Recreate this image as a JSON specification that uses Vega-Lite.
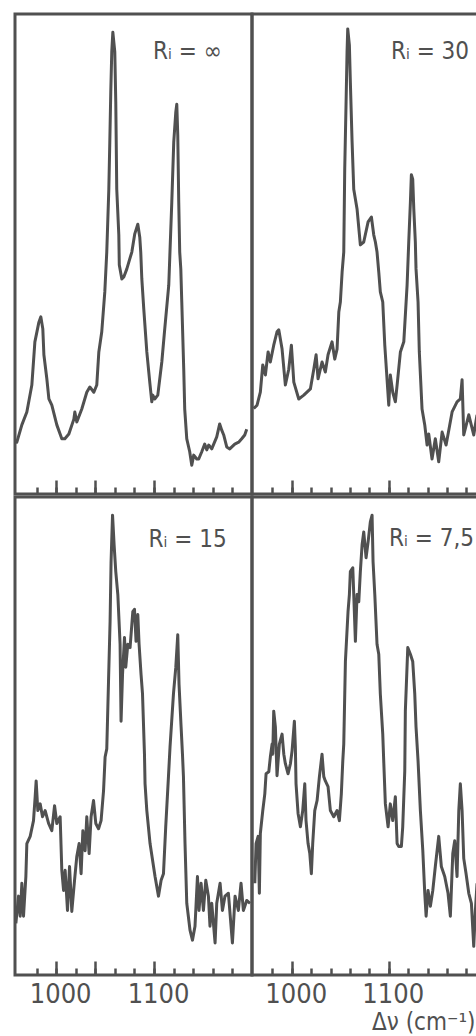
{
  "$schema": "https://vega.github.io/schema/vega-lite/v6.json",
  "background": "white",
  "padding": {"left": 13, "top": 12, "right": 0, "bottom": 0},
  "config": {
    "view": {"stroke": "#505050", "strokeWidth": 3},
    "font": "DejaVu Sans Condensed, DejaVu Sans, sans-serif"
  },
  "datasets": {
    "inf": [
      {"wn":957.9,"int":11.2},{"wn":959.9,"int":10.8},{"wn":965.0,"int":14.4},{"wn":970.1,"int":17.1},{"wn":975.2,"int":22.7},{"wn":978.3,"int":31.7},{"wn":982.4,"int":35.8},{"wn":984.4,"int":36.9},{"wn":986.4,"int":34.4},{"wn":987.5,"int":29.0},{"wn":990.5,"int":24.0},{"wn":992.6,"int":19.8},{"wn":995.6,"int":18.5},{"wn":1000.7,"int":14.4},{"wn":1005.8,"int":11.5},{"wn":1008.9,"int":11.5},{"wn":1013.0,"int":12.5},{"wn":1018.1,"int":15.6},{"wn":1019.1,"int":17.1},{"wn":1021.1,"int":15.0},{"wn":1026.2,"int":17.7},{"wn":1031.3,"int":21.2},{"wn":1034.4,"int":22.3},{"wn":1038.5,"int":21.2},{"wn":1041.5,"int":22.7},{"wn":1043.6,"int":29.6},{"wn":1046.6,"int":33.8},{"wn":1049.7,"int":42.1},{"wn":1051.7,"int":50.4},{"wn":1053.8,"int":63.5},{"wn":1054.8,"int":73.3},{"wn":1055.8,"int":83.8},{"wn":1056.8,"int":92.1},{"wn":1057.9,"int":96.2},{"wn":1059.9,"int":92.1},{"wn":1060.9,"int":81.7},{"wn":1061.9,"int":63.5},{"wn":1064.0,"int":54.0},{"wn":1064.5,"int":47.7},{"wn":1067.1,"int":44.8},{"wn":1069.1,"int":45.2},{"wn":1072.2,"int":46.9},{"wn":1075.2,"int":49.0},{"wn":1077.3,"int":50.4},{"wn":1080.3,"int":54.2},{"wn":1083.4,"int":56.2},{"wn":1085.4,"int":53.5},{"wn":1086.4,"int":50.4},{"wn":1087.5,"int":44.8},{"wn":1089.5,"int":38.5},{"wn":1092.6,"int":29.6},{"wn":1095.6,"int":23.3},{"wn":1097.7,"int":19.2},{"wn":1098.7,"int":20.6},{"wn":1100.7,"int":19.8},{"wn":1103.8,"int":20.6},{"wn":1107.9,"int":27.5},{"wn":1110.9,"int":34.4},{"wn":1115.0,"int":43.5},{"wn":1118.1,"int":60.8},{"wn":1120.1,"int":73.3},{"wn":1122.2,"int":79.6},{"wn":1123.2,"int":81.2},{"wn":1124.2,"int":74.8},{"wn":1125.2,"int":60.8},{"wn":1126.2,"int":50.4},{"wn":1127.3,"int":46.9},{"wn":1128.3,"int":40.0},{"wn":1130.3,"int":26.0},{"wn":1131.3,"int":17.7},{"wn":1133.4,"int":11.5},{"wn":1136.4,"int":8.8},{"wn":1138.5,"int":6.0},{"wn":1140.5,"int":8.1},{"wn":1143.6,"int":7.3},{"wn":1145.6,"int":7.3},{"wn":1148.7,"int":8.8},{"wn":1151.7,"int":10.4},{"wn":1153.8,"int":9.2},{"wn":1155.8,"int":10.2},{"wn":1158.9,"int":9.4},{"wn":1164.0,"int":11.9},{"wn":1167.0,"int":14.6},{"wn":1169.1,"int":13.3},{"wn":1171.1,"int":12.3},{"wn":1174.2,"int":9.8},{"wn":1177.3,"int":9.4},{"wn":1182.4,"int":10.4},{"wn":1186.4,"int":10.8},{"wn":1189.5,"int":11.5},{"wn":1192.6,"int":12.3},{"wn":1194.6,"int":13.5}
    ],
    "r30": [
      {"wn":960.8,"int":17.8},{"wn":964.2,"int":18.5},{"wn":967.6,"int":21.2},{"wn":970.1,"int":26.9},{"wn":972.8,"int":24.8},{"wn":975.6,"int":29.6},{"wn":977.9,"int":27.5},{"wn":981.4,"int":31.0},{"wn":984.8,"int":33.8},{"wn":986.6,"int":34.2},{"wn":990.0,"int":30.2},{"wn":993.4,"int":22.7},{"wn":996.9,"int":26.0},{"wn":999.6,"int":31.0},{"wn":1002.1,"int":23.3},{"wn":1007.2,"int":19.8},{"wn":1012.4,"int":20.6},{"wn":1019.2,"int":21.9},{"wn":1022.7,"int":26.0},{"wn":1025.1,"int":29.0},{"wn":1027.1,"int":24.0},{"wn":1031.2,"int":27.5},{"wn":1034.6,"int":25.4},{"wn":1037.4,"int":29.0},{"wn":1041.5,"int":31.7},{"wn":1044.3,"int":28.1},{"wn":1046.7,"int":30.2},{"wn":1048.5,"int":37.9},{"wn":1050.1,"int":40.0},{"wn":1051.9,"int":46.2},{"wn":1053.6,"int":50.4},{"wn":1054.6,"int":67.7},{"wn":1056.0,"int":81.7},{"wn":1057.0,"int":92.1},{"wn":1057.7,"int":96.9},{"wn":1059.4,"int":93.5},{"wn":1060.4,"int":85.8},{"wn":1062.2,"int":73.3},{"wn":1063.9,"int":63.5},{"wn":1067.3,"int":59.4},{"wn":1070.7,"int":51.9},{"wn":1074.2,"int":52.5},{"wn":1078.7,"int":56.7},{"wn":1082.1,"int":57.7},{"wn":1084.5,"int":54.0},{"wn":1086.2,"int":52.5},{"wn":1087.9,"int":50.4},{"wn":1089.7,"int":46.2},{"wn":1091.3,"int":42.1},{"wn":1093.8,"int":40.0},{"wn":1095.9,"int":31.0},{"wn":1098.2,"int":24.0},{"wn":1100.0,"int":18.5},{"wn":1101.6,"int":24.8},{"wn":1104.1,"int":21.2},{"wn":1106.8,"int":19.2},{"wn":1108.6,"int":22.7},{"wn":1112.0,"int":29.6},{"wn":1115.5,"int":31.7},{"wn":1118.9,"int":43.5},{"wn":1120.6,"int":52.5},{"wn":1122.3,"int":60.8},{"wn":1123.3,"int":66.5},{"wn":1124.7,"int":65.6},{"wn":1125.8,"int":59.4},{"wn":1127.4,"int":52.5},{"wn":1128.1,"int":46.9},{"wn":1130.2,"int":40.0},{"wn":1131.5,"int":29.6},{"wn":1134.3,"int":17.7},{"wn":1137.1,"int":14.4},{"wn":1139.5,"int":10.2},{"wn":1141.2,"int":12.5},{"wn":1144.6,"int":7.3},{"wn":1148.0,"int":11.5},{"wn":1151.5,"int":6.7},{"wn":1155.0,"int":12.9},{"wn":1159.1,"int":10.2},{"wn":1165.3,"int":17.1},{"wn":1170.4,"int":19.2},{"wn":1173.8,"int":19.8},{"wn":1175.6,"int":23.8},{"wn":1177.3,"int":12.3},{"wn":1182.5,"int":16.5},{"wn":1187.6,"int":12.3},{"wn":1191.0,"int":16.5}
    ],
    "r15": [
      {"wn":958.9,"int":10.8},{"wn":961.6,"int":16.5},{"wn":963.3,"int":12.3},{"wn":965.0,"int":19.2},{"wn":966.7,"int":12.3},{"wn":969.1,"int":20.6},{"wn":970.1,"int":27.5},{"wn":973.5,"int":29.0},{"wn":976.9,"int":32.3},{"wn":978.6,"int":37.3},{"wn":979.6,"int":40.6},{"wn":981.3,"int":34.4},{"wn":983.7,"int":35.8},{"wn":986.1,"int":33.1},{"wn":988.8,"int":34.4},{"wn":992.3,"int":31.7},{"wn":995.6,"int":30.2},{"wn":998.4,"int":35.4},{"wn":1000.7,"int":31.7},{"wn":1004.1,"int":33.1},{"wn":1005.8,"int":21.9},{"wn":1007.6,"int":17.7},{"wn":1009.2,"int":21.9},{"wn":1011.6,"int":13.5},{"wn":1013.7,"int":22.7},{"wn":1016.0,"int":13.3},{"wn":1018.8,"int":19.8},{"wn":1021.1,"int":24.8},{"wn":1023.5,"int":27.5},{"wn":1025.5,"int":21.2},{"wn":1027.3,"int":30.2},{"wn":1029.6,"int":26.0},{"wn":1031.3,"int":33.1},{"wn":1033.7,"int":25.4},{"wn":1035.7,"int":33.1},{"wn":1038.2,"int":36.5},{"wn":1040.5,"int":31.7},{"wn":1043.3,"int":30.6},{"wn":1045.9,"int":32.3},{"wn":1048.4,"int":38.5},{"wn":1050.0,"int":45.6},{"wn":1051.7,"int":47.3},{"wn":1053.5,"int":61.5},{"wn":1055.1,"int":74.0},{"wn":1056.1,"int":86.5},{"wn":1057.6,"int":96.2},{"wn":1059.2,"int":90.0},{"wn":1060.9,"int":84.4},{"wn":1063.0,"int":79.6},{"wn":1065.3,"int":69.2},{"wn":1066.3,"int":53.1},{"wn":1067.8,"int":62.9},{"wn":1069.8,"int":70.6},{"wn":1071.1,"int":64.4},{"wn":1073.2,"int":69.2},{"wn":1075.5,"int":68.5},{"wn":1078.3,"int":76.0},{"wn":1080.0,"int":76.5},{"wn":1081.6,"int":69.8},{"wn":1083.4,"int":75.4},{"wn":1084.7,"int":69.2},{"wn":1086.7,"int":62.9},{"wn":1088.2,"int":58.8},{"wn":1090.2,"int":46.2},{"wn":1090.8,"int":40.0},{"wn":1092.6,"int":34.4},{"wn":1095.9,"int":27.5},{"wn":1101.0,"int":20.6},{"wn":1104.5,"int":16.5},{"wn":1107.2,"int":19.8},{"wn":1109.6,"int":21.2},{"wn":1111.9,"int":31.0},{"wn":1114.7,"int":41.5},{"wn":1116.3,"int":47.7},{"wn":1119.8,"int":58.8},{"wn":1122.2,"int":64.4},{"wn":1124.2,"int":71.2},{"wn":1125.5,"int":60.8},{"wn":1127.6,"int":51.9},{"wn":1129.0,"int":46.2},{"wn":1130.0,"int":41.5},{"wn":1131.6,"int":27.5},{"wn":1133.4,"int":15.0},{"wn":1136.7,"int":9.4},{"wn":1139.2,"int":7.3},{"wn":1141.8,"int":10.2},{"wn":1144.3,"int":20.6},{"wn":1145.9,"int":13.5},{"wn":1148.0,"int":19.2},{"wn":1150.4,"int":13.5},{"wn":1152.8,"int":19.8},{"wn":1155.5,"int":16.5},{"wn":1157.1,"int":10.2},{"wn":1158.9,"int":15.0},{"wn":1162.3,"int":6.7},{"wn":1164.0,"int":15.0},{"wn":1167.4,"int":19.2},{"wn":1169.8,"int":13.5},{"wn":1172.4,"int":16.5},{"wn":1175.9,"int":17.1},{"wn":1180.0,"int":6.7},{"wn":1182.7,"int":16.5},{"wn":1186.1,"int":13.5},{"wn":1188.8,"int":19.2},{"wn":1191.2,"int":13.5},{"wn":1194.6,"int":15.6},{"wn":1198.0,"int":15.0}
    ],
    "r75": [
      {"wn":961.9,"int":19.2},{"wn":963.2,"int":27.5},{"wn":965.3,"int":29.0},{"wn":966.6,"int":17.1},{"wn":967.6,"int":29.6},{"wn":970.1,"int":34.4},{"wn":972.2,"int":37.9},{"wn":973.5,"int":42.1},{"wn":976.3,"int":42.5},{"wn":977.9,"int":45.6},{"wn":979.7,"int":48.3},{"wn":980.4,"int":46.2},{"wn":981.4,"int":55.2},{"wn":983.1,"int":51.9},{"wn":984.8,"int":41.7},{"wn":987.2,"int":48.3},{"wn":990.0,"int":50.4},{"wn":991.8,"int":46.2},{"wn":993.4,"int":44.2},{"wn":996.2,"int":42.1},{"wn":998.6,"int":44.2},{"wn":1000.3,"int":46.9},{"wn":1002.7,"int":53.1},{"wn":1003.7,"int":47.7},{"wn":1004.4,"int":40.0},{"wn":1006.5,"int":33.8},{"wn":1008.9,"int":31.0},{"wn":1011.3,"int":34.4},{"wn":1013.4,"int":40.0},{"wn":1014.7,"int":32.3},{"wn":1016.8,"int":27.5},{"wn":1018.6,"int":25.4},{"wn":1020.2,"int":21.2},{"wn":1021.6,"int":27.5},{"wn":1023.7,"int":34.4},{"wn":1026.1,"int":36.5},{"wn":1028.5,"int":41.5},{"wn":1031.2,"int":46.2},{"wn":1033.0,"int":41.5},{"wn":1034.6,"int":40.6},{"wn":1037.4,"int":39.4},{"wn":1039.8,"int":34.4},{"wn":1043.3,"int":33.1},{"wn":1046.7,"int":34.4},{"wn":1049.1,"int":32.3},{"wn":1051.1,"int":37.9},{"wn":1052.6,"int":44.8},{"wn":1053.6,"int":48.3},{"wn":1055.3,"int":65.6},{"wn":1058.0,"int":76.0},{"wn":1059.4,"int":79.6},{"wn":1060.4,"int":84.4},{"wn":1062.9,"int":85.2},{"wn":1063.9,"int":79.6},{"wn":1065.6,"int":69.8},{"wn":1067.3,"int":79.6},{"wn":1069.1,"int":78.1},{"wn":1070.7,"int":84.4},{"wn":1072.5,"int":90.0},{"wn":1074.2,"int":92.7},{"wn":1076.6,"int":87.3},{"wn":1078.7,"int":90.6},{"wn":1081.0,"int":94.8},{"wn":1082.8,"int":96.2},{"wn":1083.8,"int":86.5},{"wn":1085.6,"int":79.6},{"wn":1087.9,"int":69.2},{"wn":1089.7,"int":67.1},{"wn":1091.3,"int":58.8},{"wn":1093.8,"int":50.4},{"wn":1094.8,"int":44.8},{"wn":1096.5,"int":35.8},{"wn":1099.3,"int":31.0},{"wn":1101.6,"int":35.8},{"wn":1104.1,"int":32.3},{"wn":1106.8,"int":37.3},{"wn":1108.6,"int":27.5},{"wn":1110.3,"int":26.9},{"wn":1113.0,"int":26.9},{"wn":1114.4,"int":31.0},{"wn":1116.5,"int":42.7},{"wn":1117.1,"int":55.2},{"wn":1119.6,"int":68.5},{"wn":1122.3,"int":67.1},{"wn":1124.7,"int":65.6},{"wn":1126.8,"int":58.8},{"wn":1128.1,"int":51.9},{"wn":1130.2,"int":44.8},{"wn":1132.6,"int":34.4},{"wn":1135.1,"int":26.0},{"wn":1137.1,"int":17.1},{"wn":1138.5,"int":12.3},{"wn":1140.5,"int":17.7},{"wn":1142.9,"int":14.4},{"wn":1145.4,"int":17.7},{"wn":1148.0,"int":22.7},{"wn":1151.5,"int":29.0},{"wn":1154.2,"int":22.7},{"wn":1157.7,"int":20.6},{"wn":1161.1,"int":17.1},{"wn":1163.5,"int":12.3},{"wn":1166.0,"int":25.4},{"wn":1168.0,"int":28.1},{"wn":1170.4,"int":20.6},{"wn":1172.2,"int":34.4},{"wn":1173.8,"int":40.0},{"wn":1175.6,"int":34.4},{"wn":1177.3,"int":24.4},{"wn":1179.7,"int":21.2},{"wn":1182.5,"int":17.1},{"wn":1185.2,"int":15.0},{"wn":1187.6,"int":6.0},{"wn":1189.3,"int":13.5},{"wn":1191.0,"int":19.2}
    ]
  },
  "spacing": -9,
  "vconcat": [
    {
      "spacing": 0,
      "bounds": "flush",
      "hconcat": [
        {
          "width": 237, "height": 480,
          "layer": [
            {
              "data": {"name": "inf"},
              "mark": {"type": "line", "color": "#505050", "strokeWidth": 3, "strokeJoin": "round", "clip": true},
              "encoding": {
                "x": {"field": "wn", "type": "quantitative", "scale": {"domain": [958, 1200], "nice": false, "zero": false},
                      "axis": {"orient": "bottom", "values": [980,1000,1020,1040,1060,1080,1100,1120,1140,1160,1180], "tickSize": -7, "tickWidth": 2.5, "tickColor": "#505050", "labels": false, "domain": false, "grid": false, "title": null}},
                "y": {"field": "int", "type": "quantitative", "scale": {"domain": [0, 100], "nice": false, "zero": false}, "axis": null}
              }
            },
            {
              "data": {"values": [{"wn": 1169, "int": 90.6, "label": "Rᵢ = ∞"}]},
              "mark": {"type": "text", "align": "right", "baseline": "alphabetic", "fontSize": 24, "color": "#505050"},
              "encoding": {
                "x": {"field": "wn", "type": "quantitative",
                      "axis": {"orient": "bottom", "values": [1000, 1040, 1100], "tickSize": -14, "tickWidth": 2.5, "tickColor": "#505050", "labels": false, "domain": false, "grid": false, "title": null}},
                "y": {"field": "int", "type": "quantitative"},
                "text": {"field": "label"}
              }
            }
          ],
          "resolve": {"axis": {"x": "independent"}}
        },
        {
          "width": 226, "height": 480,
          "layer": [
            {
              "data": {"name": "r30"},
              "mark": {"type": "line", "color": "#505050", "strokeWidth": 3, "strokeJoin": "round", "clip": true},
              "encoding": {
                "x": {"field": "wn", "type": "quantitative", "scale": {"domain": [959, 1192], "nice": false, "zero": false},
                      "axis": {"orient": "bottom", "values": [980,1000,1020,1040,1060,1080,1100,1120,1140,1160,1180], "tickSize": -7, "tickWidth": 2.5, "tickColor": "#505050", "labels": false, "domain": false, "grid": false, "title": null}},
                "y": {"field": "int", "type": "quantitative", "scale": {"domain": [0, 100], "nice": false, "zero": false}, "axis": null}
              }
            },
            {
              "data": {"values": [{"wn": 1182.8, "int": 90.6, "label": "Rᵢ = 30"}]},
              "mark": {"type": "text", "align": "right", "baseline": "alphabetic", "fontSize": 24, "color": "#505050"},
              "encoding": {
                "x": {"field": "wn", "type": "quantitative",
                      "axis": {"orient": "bottom", "values": [1000, 1100], "tickSize": -14, "tickWidth": 2.5, "tickColor": "#505050", "labels": false, "domain": false, "grid": false, "title": null}},
                "y": {"field": "int", "type": "quantitative"},
                "text": {"field": "label"}
              }
            }
          ],
          "resolve": {"axis": {"x": "independent"}}
        }
      ]
    },
    {
      "spacing": 0,
      "bounds": "flush",
      "hconcat": [
        {
          "width": 237, "height": 478,
          "layer": [
            {
              "data": {"name": "r15"},
              "mark": {"type": "line", "color": "#505050", "strokeWidth": 3, "strokeJoin": "round", "clip": true},
              "encoding": {
                "x": {"field": "wn", "type": "quantitative", "scale": {"domain": [958, 1200], "nice": false, "zero": false},
                      "axis": {"orient": "bottom", "values": [980,1000,1020,1040,1060,1080,1100,1120,1140,1160,1180], "tickSize": -7, "tickWidth": 2.5, "tickColor": "#505050", "labels": false, "domain": false, "grid": false, "title": null}},
                "y": {"field": "int", "type": "quantitative", "scale": {"domain": [0, 100], "nice": false, "zero": false}, "axis": null}
              }
            },
            {
              "data": {"values": [{"wn": 1174.2, "int": 89.6, "label": "Rᵢ = 15"}]},
              "mark": {"type": "text", "align": "right", "baseline": "alphabetic", "fontSize": 24, "color": "#505050"},
              "encoding": {
                "x": {"field": "wn", "type": "quantitative",
                      "axis": {"orient": "bottom", "values": [1000, 1040, 1100], "tickSize": -14, "tickWidth": 2.5, "tickColor": "#505050", "labels": true, "labelExpr": "datum.value == 1040 ? '' : datum.value", "labelFontSize": 27, "labelColor": "#505050", "labelPadding": 20, "labelOffset": 4, "domain": false, "grid": false, "title": null}},
                "y": {"field": "int", "type": "quantitative"},
                "text": {"field": "label"}
              }
            }
          ],
          "resolve": {"axis": {"x": "independent"}}
        },
        {
          "width": 226, "height": 478,
          "layer": [
            {
              "data": {"name": "r75"},
              "mark": {"type": "line", "color": "#505050", "strokeWidth": 3, "strokeJoin": "round", "clip": true},
              "encoding": {
                "x": {"field": "wn", "type": "quantitative", "scale": {"domain": [959, 1192], "nice": false, "zero": false},
                      "axis": {"orient": "bottom", "values": [980,1000,1020,1040,1060,1080,1100,1120,1140,1160,1180], "tickSize": -7, "tickWidth": 2.5, "tickColor": "#505050", "labels": false, "domain": false, "grid": false, "title": null}},
                "y": {"field": "int", "type": "quantitative", "scale": {"domain": [0, 100], "nice": false, "zero": false}, "axis": null}
              }
            },
            {
              "data": {"values": [{"wn": 1187.9, "int": 89.8, "label": "Rᵢ = 7,5"}]},
              "mark": {"type": "text", "align": "right", "baseline": "alphabetic", "fontSize": 24, "color": "#505050"},
              "encoding": {
                "x": {"field": "wn", "type": "quantitative",
                      "axis": {"orient": "bottom", "values": [1000, 1100], "tickSize": -14, "tickWidth": 2.5, "tickColor": "#505050", "labels": true, "labelExpr": "datum.value", "labelFontSize": 27, "labelColor": "#505050", "labelPadding": 20, "labelOffset": 4, "domain": false, "grid": false,
                               "title": "Δν (cm⁻¹)", "titleAnchor": "end", "titleAlign": "right", "titleX": 223, "titleFontSize": 24, "titleFontWeight": "normal", "titleColor": "#505050", "titlePadding": 3}},
                "y": {"field": "int", "type": "quantitative"},
                "text": {"field": "label"}
              }
            }
          ],
          "resolve": {"axis": {"x": "independent"}}
        }
      ]
    }
  ]
}
